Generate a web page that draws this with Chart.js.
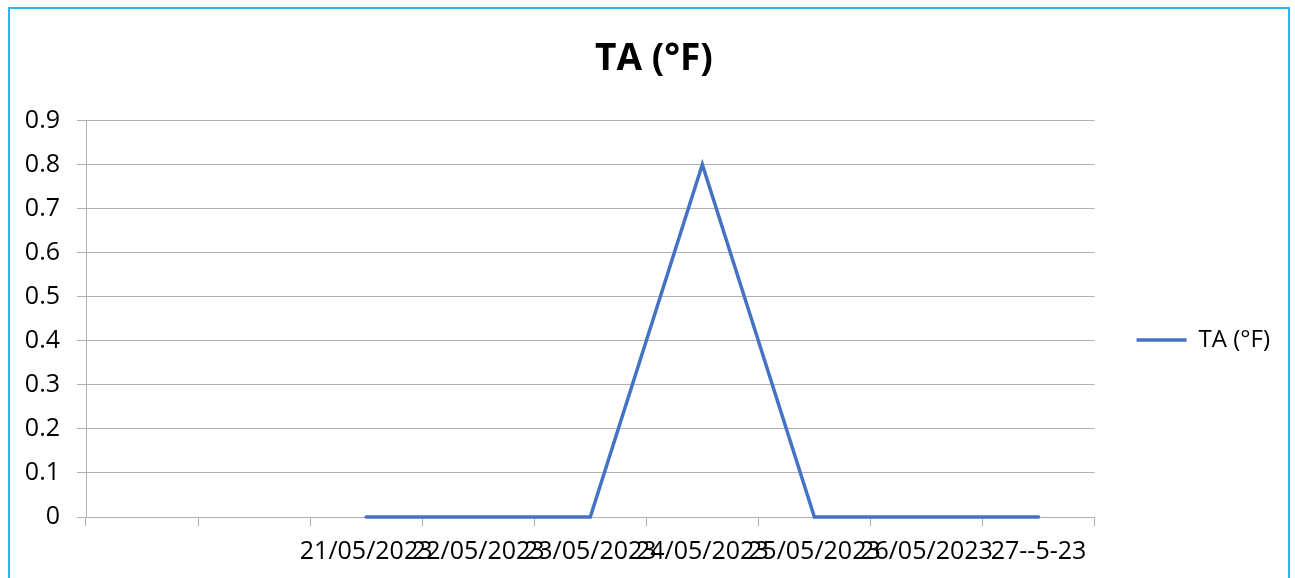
<!DOCTYPE html>
<html>
<head>
<meta charset="utf-8">
<script src="https://cdn.jsdelivr.net/npm/chart.js@4/dist/chart.umd.min.js"></script>
<style>
  html, body { margin: 0; padding: 0; background: #fff; }
  #wrap { position: relative; width: 1295px; height: 578px; }
  #frame { position: absolute; left: 8px; top: 7px; width: 1282px; height: 600px; border: 2px solid #2fb5ee; box-sizing: border-box; pointer-events: none; }
</style>
</head>
<body>
<div id="wrap">
  <canvas id="myChart" width="1295" height="578"></canvas>
  <div id="frame"></div>
</div>
<script>
const dates = ['', '', '21/05/2023', '22/05/2023', '23/05/2023', '24/05/2023', '25/05/2023', '26/05/2023', '27--5-23'];
const taValues = [null, null, 0, 0, 0, 0.8, 0, 0, 0];
const seriesName = 'TA (°F)';

const font = 'Open Sans';
const gridGray = '#b0b0b0';

// nudge the legend down and the title right a bit like the original
const boxNudge = {
  id: 'boxNudge',
  afterLayout(chart) {
    chart.legend.top += 51;
    chart.legend.bottom += 51;
    chart.titleBlock.left += 14;
    chart.titleBlock.right += 14;
  }
};

const ctx = document.getElementById('myChart');

const chart = new Chart(ctx, {
  type: 'line',
  data: {
    labels: dates,
    datasets: [{
      label: seriesName,
      data: taValues,
      borderColor: '#4472c4',
      backgroundColor: '#4472c4',
      borderWidth: 3.5,
      borderCapStyle: 'round',
      pointRadius: 0,
      pointStyle: 'line',
      tension: 0,
      clip: false
    }]
  },
  options: {
    responsive: false,
    animation: false,
    layout: { padding: { left: 0, right: 15, top: 0, bottom: 0 } },
    plugins: {
      title: {
        display: true,
        text: seriesName,
        color: '#000',
        font: { family: font, size: 37, weight: 'bold' },
        padding: { top: 37, bottom: 39 }
      },
      legend: {
        position: 'right',
        labels: {
          color: '#000',
          font: { family: font, size: 24 },
          usePointStyle: true,
          pointStyleWidth: 50,
          padding: 42
        }
      },
      tooltip: { enabled: false }
    },
    scales: {
      x: {
        offset: true,
        grid: { offset: true, drawOnChartArea: false, drawTicks: true, tickLength: 9, color: gridGray },
        border: { color: gridGray },
        ticks: {
          color: '#000',
          font: { family: font, size: 25 },
          maxRotation: 0,
          minRotation: 0,
          autoSkip: false,
          padding: 11
        }
      },
      y: {
        min: 0,
        max: 0.9,
        afterFit: s => { s.width = 86; },
        grid: { color: gridGray, tickLength: 9 },
        border: { color: gridGray },
        ticks: {
          stepSize: 0.1,
          color: '#000',
          font: { family: font, size: 25 },
          padding: 17
        }
      }
    }
  },
  plugins: [boxNudge]
});
</script>
</body>
</html>
